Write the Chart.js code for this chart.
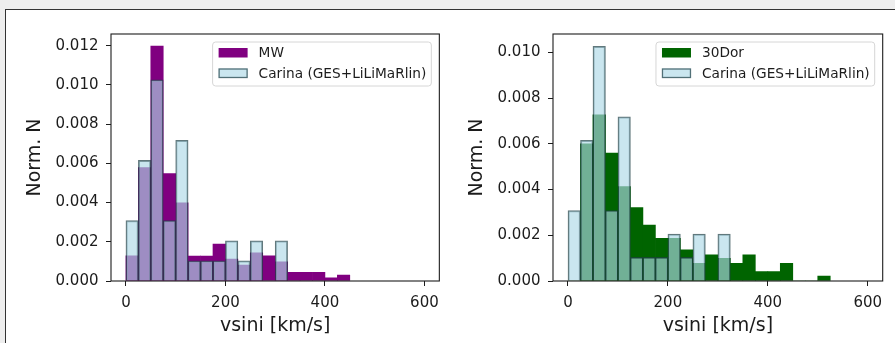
<!DOCTYPE html>
<html>
<head>
<meta charset="utf-8">
<title>vsini</title>
<script src="https://cdn.jsdelivr.net/npm/chart.js@4.4.1/dist/chart.umd.min.js"></script>
<style>
    html, body { margin: 0; padding: 0; background: #eeeeee; }
    body { position: relative; width: 895px; height: 343px; overflow: hidden; }
    #frame {
        position: absolute; left: 5px; top: 9px; right: 0; bottom: 0;
        background: #fff; border-left: 1px solid #333; border-top: 1px solid #333;
    }
    canvas { position: absolute; top: 0; }
    #chartMW { left: 0; }
    #chartDor { left: 442px; }
</style>
</head>
<body>
<div id="frame"></div>
<canvas id="chartMW" width="447" height="343"></canvas>
<canvas id="chartDor" width="453" height="343"></canvas>

<script>
// histogram bins, 25 km/s wide (centres)
const binCentres = [12.5, 37.5, 62.5, 87.5, 112.5, 137.5, 162.5, 187.5, 212.5, 237.5, 262.5,
                    287.5, 312.5, 337.5, 362.5, 387.5, 412.5, 437.5, 462.5, 487.5, 512.5];

const xTicks = [0, 200, 400, 600];
const yTicksMW = [0, 0.002, 0.004, 0.006, 0.008, 0.010, 0.012];
const yTicksDor = [0, 0.002, 0.004, 0.006, 0.008, 0.010];

// normalised counts per bin
const mwNorm = [0.00129, 0.00579, 0.01198, 0.00548, 0.00399, 0.00127, 0.00127, 0.00188, 0.00112,
                0.00081, 0.00144, 0.00129, 0.00098, 0.00044, 0.00044, 0.00044, 0.00016, 0.00030];
const carinaNorm = [0.00308, 0.00615, 0.01026, 0.00308, 0.00718, 0.00103, 0.00103, 0.00103,
                    0.00205, 0.00103, 0.00205, 0, 0.00205];
const dorNorm = [0, 0.00600, 0.00727, 0.00559, 0.00413, 0.00321, 0.00245, 0.00187, 0.00187, 0.00136,
                 0.00077, 0.00114, 0.00099, 0.00077, 0.00114, 0.00041, 0.00041, 0.00077, 0, 0, 0.00022];

const FONT = "'DejaVu Sans', sans-serif";
const INK = '#1c1c1c';

Chart.defaults.font.family = FONT;
Chart.defaults.color = INK;

const toPoints = values => values.map((y, i) => ({ x: binCentres[i], y }));

// frame round the plotting area (all four spines)
const spines = {
    id: 'spines',
    afterDatasetsDraw(chart) {
        const { ctx, chartArea: a } = chart;
        ctx.save();
        ctx.strokeStyle = INK;
        ctx.lineWidth = 1.1;
        ctx.strokeRect(a.left, a.top, a.right - a.left, a.bottom - a.top);
        ctx.restore();
    }
};

// legend drawn inside the axes, upper right, matplotlib style
const legendBox = {
    id: 'legendBox',
    afterDraw(chart) {
        const { ctx, chartArea: a } = chart;
        const sets = chart.data.datasets;
        ctx.save();
        ctx.font = '13.7px ' + FONT;
        const textW = Math.max(...sets.map(d => ctx.measureText(d.label).width));
        const w = 6 + 29 + 11 + textW + 5;
        const h = 44;
        const x = a.right - 8 - w;
        const y = a.top + 8;

        ctx.beginPath();
        ctx.roundRect(x, y, w, h, 3);
        ctx.fillStyle = 'rgba(255,255,255,0.8)';
        ctx.fill();
        ctx.strokeStyle = '#d6d6d6';
        ctx.lineWidth = 1;
        ctx.stroke();

        sets.forEach((d, i) => {
            const cy = y + 10.5 + i * 20.5;
            const hx = x + 6;
            ctx.fillStyle = d.backgroundColor;
            ctx.fillRect(hx, cy - 4.5, 29, 9.5);
            if (d.borderWidth) {
                ctx.strokeStyle = d.borderColor;
                ctx.lineWidth = d.borderWidth;
                ctx.strokeRect(hx + 0.5, cy - 4, 28, 8.5);
            }
            ctx.fillStyle = INK;
            ctx.textBaseline = 'middle';
            ctx.fillText(d.label, hx + 29 + 11, cy + 1);
        });
        ctx.restore();
    }
};

function montarPainel(canvasId, sample, carina, yMax, yTicks, padRight) {
    const ctx = document.getElementById(canvasId).getContext('2d');

    new Chart(ctx, {
        type: 'bar',
        data: {
            datasets: [
                {
                    label: sample.label,
                    data: toPoints(sample.values),
                    backgroundColor: sample.color,
                    borderWidth: 0,
                    order: 1
                },
                {
                    label: 'Carina (GES+LiLiMaRlin)',
                    data: toPoints(carina),
                    backgroundColor: 'rgba(173, 216, 230, 0.65)',
                    borderColor: 'rgba(30, 62, 68, 0.7)',
                    borderWidth: 1.3,
                    order: 0
                }
            ]
        },
        options: {
            responsive: false,
            animation: false,
            events: [],
            grouped: false,
            barPercentage: 1,
            categoryPercentage: 1,
            layout: { padding: { left: 0, top: 34, right: padRight, bottom: 0 } },
            plugins: { legend: { display: false }, tooltip: { enabled: false } },
            scales: {
                x: {
                    type: 'linear',
                    min: -30,
                    max: 630,
                    offset: false,
                    afterBuildTicks: s => { s.ticks = xTicks.map(v => ({ value: v })); },
                    afterFit: s => { s.height = 62; },
                    ticks: { callback: v => String(v), font: { size: 15 }, padding: 8, maxRotation: 0 },
                    grid: { drawOnChartArea: false, drawTicks: true, tickLength: 5, tickColor: INK, offset: false },
                    border: { display: false },
                    title: { display: true, text: 'vsini [km/s]', font: { size: 19 }, padding: { top: 0, bottom: 5.5 } }
                },
                y: {
                    min: 0,
                    max: yMax,
                    afterBuildTicks: s => { s.ticks = yTicks.map(v => ({ value: v })); },
                    afterFit: s => { s.width = 111; },
                    ticks: { callback: v => v.toFixed(3), font: { size: 15 }, padding: 7.5 },
                    grid: { drawOnChartArea: false, drawTicks: true, tickLength: 5, tickColor: INK },
                    border: { display: false },
                    title: { display: true, text: 'Norm. N', font: { size: 19 }, padding: { top: 23.5, bottom: 0 } }
                }
            }
        },
        plugins: [spines, legendBox]
    });
}

document.addEventListener('DOMContentLoaded', () => {
    montarPainel('chartMW', { label: 'MW', values: mwNorm, color: '#800080' }, carinaNorm, 0.0126, yTicksMW, 6);
    montarPainel('chartDor', { label: '30Dor', values: dorNorm, color: '#006400' }, carinaNorm, 0.0108, yTicksDor, 12.3);
});
</script>
</body>
</html>
